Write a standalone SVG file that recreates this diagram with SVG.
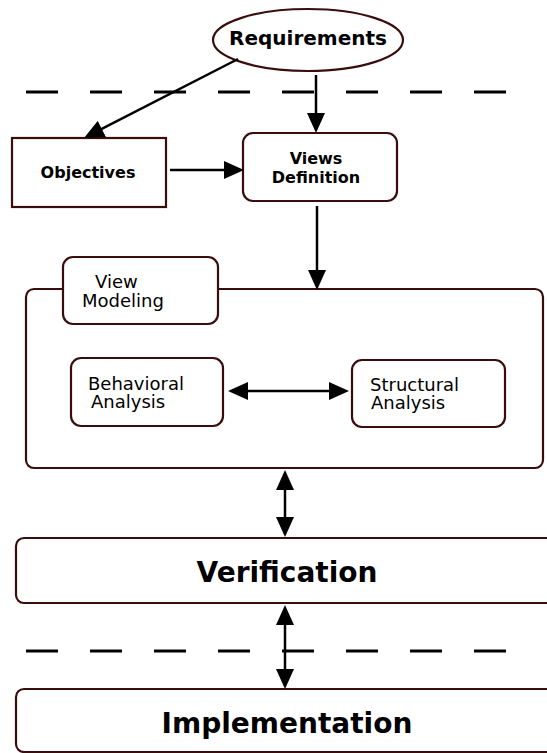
<svg xmlns="http://www.w3.org/2000/svg" width="547" height="753" viewBox="0 0 547 753">
<style>
.box{fill:#fff;stroke:#3a0d0d;stroke-width:2.2}
.t{font-family:"DejaVu Sans",sans-serif;fill:#000}
.b{font-weight:bold}
.c{text-anchor:middle}
.conn{stroke:#000;stroke-width:2.5;fill:none}
.dash{stroke:#000;stroke-width:3.2;stroke-dasharray:32 32;fill:none}
</style>
<defs>
<marker id="ah" viewBox="0 0 20 18" refX="16" refY="9" markerWidth="20" markerHeight="18" markerUnits="userSpaceOnUse" orient="auto-start-reverse">
<path d="M0,0 L20,9 L0,18 z" fill="#000"/>
</marker>
</defs>
<rect width="547" height="753" fill="#fff"/>
<g id="separators">
<line class="dash" x1="26" y1="92" x2="507" y2="92"/>
<line class="dash" x1="26" y1="651" x2="507" y2="651"/>
</g>
<g id="requirements">
<ellipse class="box" cx="308" cy="40" rx="95" ry="31"/>
<text class="t b c" x="308" y="45" font-size="20">Requirements</text>
</g>
<g id="objectives">
<rect class="box" x="12" y="138" width="154" height="69"/>
<text class="t b c" x="88" y="178" font-size="16">Objectives</text>
</g>
<g id="views-definition">
<rect class="box" x="243" y="133" width="154" height="68" rx="10"/>
<text class="t b c" x="316" y="164" font-size="16">Views</text>
<text class="t b c" x="316" y="183" font-size="16">Definition</text>
</g>
<g id="view-modeling">
<rect class="box" x="26" y="289" width="517" height="179" rx="8"/>
<rect class="box" x="63" y="257" width="155" height="67" rx="10"/>
<text class="t" x="95" y="288" font-size="18">View</text>
<text class="t" x="82" y="307" font-size="18">Modeling</text>
</g>
<g id="behavioral-analysis">
<rect class="box" x="71" y="358" width="152" height="68" rx="10"/>
<text class="t" x="88" y="390" font-size="18">Behavioral</text>
<text class="t" x="91" y="408" font-size="18">Analysis</text>
</g>
<g id="structural-analysis">
<rect class="box" x="352" y="360" width="153" height="67" rx="10"/>
<text class="t" x="370" y="391" font-size="18">Structural</text>
<text class="t" x="371" y="409" font-size="18">Analysis</text>
</g>
<g id="verification">
<rect class="box" x="16" y="538" width="560" height="65" rx="8"/>
<text class="t b c" x="287" y="582" font-size="28">Verification</text>
</g>
<g id="implementation">
<rect class="box" x="16" y="689" width="560" height="63" rx="8"/>
<text class="t b c" x="287" y="733" font-size="28">Implementation</text>
</g>
<g id="connectors">
<line class="conn" x1="238" y1="59" x2="87.6" y2="136.2" marker-end="url(#ah)"/>
<line class="conn" x1="316" y1="75" x2="316" y2="129" marker-end="url(#ah)"/>
<line class="conn" x1="170" y1="170" x2="240" y2="170" marker-end="url(#ah)"/>
<line class="conn" x1="317" y1="206" x2="317" y2="286" marker-end="url(#ah)"/>
<line class="conn" x1="232" y1="391" x2="345" y2="391" marker-start="url(#ah)" marker-end="url(#ah)"/>
<line class="conn" x1="285" y1="474" x2="285" y2="533" marker-start="url(#ah)" marker-end="url(#ah)"/>
<line class="conn" x1="285" y1="609" x2="285" y2="685" marker-start="url(#ah)" marker-end="url(#ah)"/>
</g>
</svg>
